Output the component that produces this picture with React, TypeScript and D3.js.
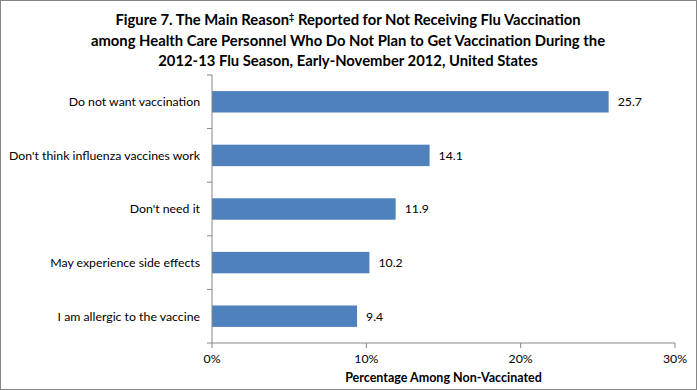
import { scaleBand, scaleLinear } from "d3";

const categories = [
  "Do not want vaccination",
  "Don't think influenza vaccines work",
  "Don't need it",
  "May experience side effects",
  "I am allergic to the vaccine",
];
const values = [25.7, 14.1, 11.9, 10.2, 9.4];
const xTicks = [0, 10, 20, 30];

const W = 697;
const H = 390;
const margin = { top: 75, right: 22, bottom: 47, left: 212 };
const font = "Lato, Carlito, Calibri, sans-serif";
const axisColor = "#868686";

export default function App() {
  const x = scaleLinear()
    .domain([0, 30])
    .range([margin.left, W - margin.right]);
  const y = scaleBand()
    .domain(categories)
    .range([margin.top, H - margin.bottom])
    .paddingInner(0.6)
    .paddingOuter(0.3);
  const step = y.step();
  const bottom = H - margin.bottom;
  const bounds = categories.map((_, i) => margin.top + i * step);
  bounds.push(bottom);

  return (
    <svg
      width={W}
      height={H}
      style={{ position: "absolute", left: 0, top: 0 }}
      fontFamily={font}
    >
      <rect x={0.5} y={0.5} width={W - 1} height={H - 1} fill="#fff" stroke="#868686" />

      {/* Title */}
      <text textAnchor="middle" fontWeight="bold" fontSize={14.8} fill="#000">
        <tspan x={348} y={25}>
          Figure 7. The Main Reason
          <tspan fontSize={9} dy={-5}>‡</tspan>
          <tspan dy={5}> Reported for Not Receiving Flu Vaccination</tspan>
        </tspan>
        <tspan x={348} y={46}>
          among Health Care Personnel Who Do Not Plan to Get Vaccination During the
        </tspan>
        <tspan x={348} y={66}>
          2012-13 Flu Season, Early-November 2012, United States
        </tspan>
      </text>

      {/* Bars */}
      {categories.map((c, i) => (
        <g key={c}>
          <rect
            x={x(0)}
            y={y(c)}
            width={x(values[i]) - x(0)}
            height={y.bandwidth()}
            fill="#4F81BD"
          />
          <text
            x={x(values[i]) + 9}
            y={(y(c) ?? 0) + y.bandwidth() / 2}
            dy="0.35em"
            fontSize={12.3}
            fill="#000"
          >
            {values[i].toFixed(1)}
          </text>
          <text
            x={margin.left - 12}
            y={(y(c) ?? 0) + y.bandwidth() / 2}
            dy="0.35em"
            fontSize={12.3}
            textAnchor="end"
            fill="#000"
          >
            {c}
          </text>
        </g>
      ))}

      {/* Y axis */}
      <line x1={x(0)} x2={x(0)} y1={margin.top} y2={bottom} stroke={axisColor} />
      {bounds.map((b) => (
        <line key={b} x1={x(0) - 5} x2={x(0)} y1={b} y2={b} stroke={axisColor} />
      ))}

      {/* X axis */}
      <line x1={x(0)} x2={x(30)} y1={bottom} y2={bottom} stroke={axisColor} />
      {xTicks.map((t) => (
        <g key={t}>
          <line x1={x(t)} x2={x(t)} y1={bottom} y2={bottom + 5} stroke={axisColor} />
          <text
            x={x(t)}
            y={bottom + 20}
            textAnchor="middle"
            fontSize={12.3}
            fill="#000"
          >
            {t}%
          </text>
        </g>
      ))}
      <text
        x={(x(0) + x(30)) / 2}
        y={bottom + 39}
        textAnchor="middle"
        fontSize={12.5}
        fontWeight="bold"
        fill="#000"
      >
        Percentage Among Non-Vaccinated
      </text>
    </svg>
  );
}
